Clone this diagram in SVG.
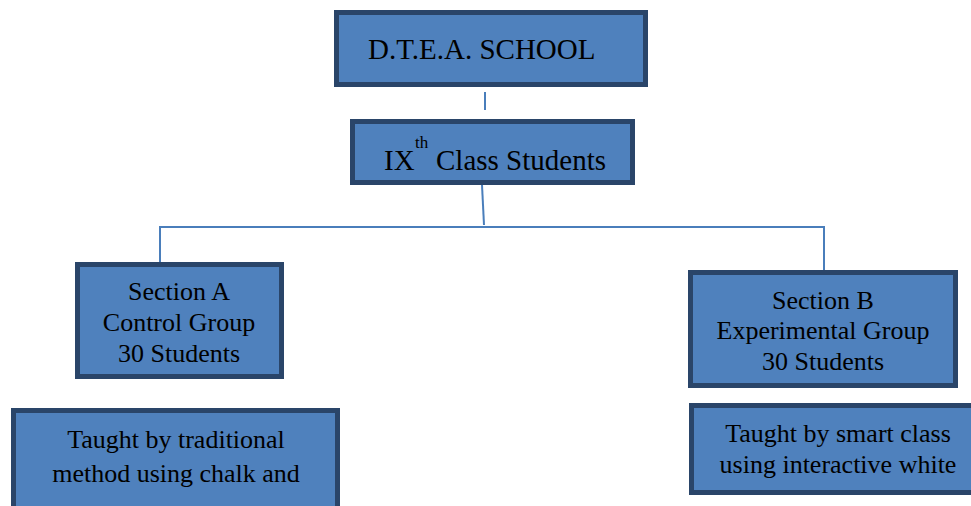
<svg xmlns="http://www.w3.org/2000/svg" width="971" height="506" viewBox="0 0 971 506">
<style>
.box{fill:#4F81BD;stroke:#2A4569;stroke-width:5}
.t{font-family:'Liberation Serif',Tinos,'DejaVu Serif',serif;font-size:26px;fill:#000;text-anchor:middle}
.big{font-size:29px;text-anchor:start}
.con{stroke:#4A7EBB;stroke-width:2;fill:none}
</style>
<rect width="971" height="506" fill="#fff"/>
<g id="connectors">
<line class="con" x1="485" y1="92" x2="485" y2="110"/>
<line class="con" x1="482" y1="185" x2="484" y2="225"/>
<polyline class="con" points="160,262 160,227 824,227 824,271"/>
</g>
<g id="school">
<rect class="box" x="336.5" y="12.5" width="309" height="72"/>
<text class="t big" x="368" y="59" font-family="Liberation Serif">D.T.E.A. SCHOOL</text>
</g>
<g id="class9">
<rect class="box" x="352.5" y="121.5" width="280" height="61"/>
<text class="t big" x="384" y="170">IX</text>
<text class="t" style="font-size:17px;text-anchor:start" x="415" y="148">th</text>
<text class="t big" x="436" y="170">Class Students</text>
</g>
<g id="sectionA">
<rect class="box" x="77.5" y="264.5" width="204" height="112"/>
<text class="t" x="179" y="300">Section A</text>
<text class="t" x="179" y="331">Control Group</text>
<text class="t" x="179" y="362">30 Students</text>
</g>
<g id="taughtA">
<rect class="box" x="13.5" y="410.5" width="324" height="120"/>
<text class="t" x="176" y="448">Taught by traditional</text>
<text class="t" x="176" y="482">method using chalk and</text>
</g>
<g id="sectionB">
<rect class="box" x="690.5" y="272.5" width="265" height="113"/>
<text class="t" x="823" y="309">Section B</text>
<text class="t" x="823" y="339">Experimental Group</text>
<text class="t" x="823" y="370">30 Students</text>
</g>
<g id="taughtB">
<rect class="box" x="691.5" y="405.5" width="290" height="87"/>
<text class="t" x="838" y="442">Taught by smart class</text>
<text class="t" x="838" y="473">using interactive white</text>
</g>
</svg>
